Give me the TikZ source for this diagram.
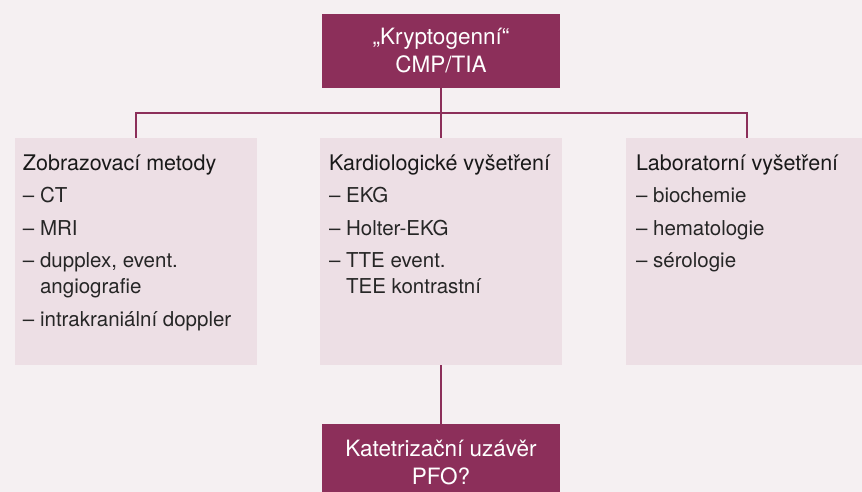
\documentclass[tikz,border=0pt]{standalone}
\usepackage{fontspec}
\setmainfont{TeX Gyre Heros}
\usepackage{xcolor}
\usepackage{tikz}

\definecolor{plum}{HTML}{8C2F5A}
\definecolor{panelpink}{HTML}{EDDFE5}
\definecolor{backpink}{HTML}{F5F0F2}
\definecolor{ink}{HTML}{262626}

\newcommand{\panelhead}[1]{{\fontsize{21.5}{26}\selectfont\color{black!90}#1}}

\begin{document}
\begin{tikzpicture}[
  x=1pt,y=-1pt,
  hub/.style={fill=plum,text=white,minimum width=238pt,inner sep=0pt,align=center,font=\fontsize{22.5}{28}\selectfont},
  panel/.style={fill=panelpink,minimum width=242pt,minimum height=227pt,inner sep=0pt},
  entries/.style={anchor=north west,inner sep=0pt,align=left,text=ink,font=\fontsize{20.5}{26}\selectfont},
  link/.style={draw=plum,line width=1.2pt}]

  % Canvas
  \clip (0,0) rectangle (862,492);
  \fill[backpink] (0,0) rectangle (862,492);

  % Position the boxes
  \node[hub,minimum height=74pt] (crypto) at (441,51) {„Kryptogenní“\\CMP/TIA};
  \node[panel] (zobr) at (136,251.5) {};
  \node[panel] (kardio) at (441,251.5) {};
  \node[panel] (lab) at (747,251.5) {};
  \node[hub,minimum height=76pt] (pfo) at (441,462) {Katetrizační uzávěr\\PFO?};
  \coordinate (bus) at (441,113);

  % Texts inside the panels
  \node[entries] (zobr_text) at ([shift={(8,16.5)}]zobr.north west)
    {\panelhead{Zobrazovací metody}\\[6.5pt] – CT\\[6.5pt] – MRI\\[6.5pt] – dupplex, event.\\\hphantom{– }angiografie\\[6.5pt] – intrakraniální doppler};
  \node[entries] (kardio_text) at ([shift={(9,16.5)}]kardio.north west)
    {\panelhead{Kardiologické vyšetření}\\[6.5pt] – EKG\\[6.5pt] – Holter-EKG\\[6.5pt] – TTE event.\\\hphantom{– }TEE kontrastní};
  \node[entries] (lab_text) at ([shift={(10,16.5)}]lab.north west)
    {\panelhead{Laboratorní vyšetření}\\[6.5pt] – biochemie\\[6.5pt] – hematologie\\[6.5pt] – sérologie};

  % Draw the lines between the boxes
  \draw[link] (zobr.north) |- (bus) -| (lab.north);
  \draw[link] (crypto) -- (kardio);
  \draw[link] (kardio) -- (pfo);
\end{tikzpicture}
\end{document}
